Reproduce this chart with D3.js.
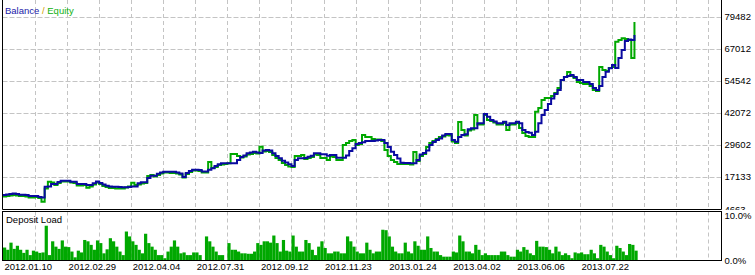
<!DOCTYPE html>
<html>
<head>
<meta charset="utf-8">
<script src="https://cdn.jsdelivr.net/npm/d3@7"></script>
<style>
  html, body { margin: 0; padding: 0; background: #fff; }
  svg { display: block; font-family: Tahoma, "Liberation Sans", Arial, sans-serif; }
</style>
</head>
<body>
<div id="chart"></div>
<script>
"use strict";

// balance after each trade (trade index = array index)
var balance = [
  10105, 10299, 10494, 10688, 10494, 10221, 10221, 10105, 9716, 9716,
  9716, 9327, 9133, 13331, 13409, 14381, 14381, 15158, 15663, 15663,
  15663, 15275, 15275, 14381, 14381, 14381, 13992, 13992, 14653, 15352,
  14769, 14186, 13720, 13409, 13331, 13331, 13214, 13098, 13098, 13214,
  13409, 13409, 14653, 15041, 15041, 16713, 17607, 17607, 18384, 18851,
  19162, 19162, 19162, 19162, 18851, 18462, 17101, 18656, 19434, 19939,
  19939, 19822, 19239, 19239, 19939, 20483, 21377, 22038, 22427, 22427,
  22427, 22427, 22427, 23709, 24875, 25458, 26314, 26625, 26935, 26625,
  26430, 27402, 27596, 27402, 26314, 25264, 24370, 23437, 22738, 22038,
  21377, 23709, 24370, 24370, 24487, 24992, 25381, 26314, 26314, 25925,
  25925, 25381, 25653, 25653, 24604, 24604, 24604, 25458, 27208, 28257,
  29929, 30317, 30590, 31095, 31095, 31095, 31289, 31483, 31483, 30317,
  28762, 26935, 25653, 24292, 22660, 22543, 22543, 22427, 22427, 23709,
  25847, 26430, 27402, 29540, 30706, 31483, 32066, 33233, 33816, 33816,
  31483, 30823, 32649, 33427, 33699, 35643, 36031, 36031, 37975, 37975,
  41590, 40540, 39257, 38674, 37975, 37975, 38597, 37314, 37975, 37975,
  38597, 37975, 35370, 34593, 34321, 33427, 34710, 37975, 41201, 43144,
  45477, 47615, 49364, 50918, 54805, 55971, 56360, 56749, 55971, 54805,
  54805, 54028, 54028, 53251, 51696, 50918, 52473, 55971, 58031, 59353,
  60636, 59470, 63357, 66466, 69965, 70548, 70353, 72297
];

var equity = [
  9522, 9716, 9910, 10105, 9910, 9716, 9716, 9522, 9133, 9133,
  9327, 8939, 7501, 12631, 15275, 14964, 13992, 14769, 15352, 15352,
  15352, 14964, 14769, 13797, 13797, 13992, 12942, 13409, 14186, 14964,
  14381, 13603, 13214, 12826, 12826, 12631, 12631, 12631, 13020, 13409,
  14886, 13992, 14186, 14575, 14769, 17490, 17879, 17296, 17879, 18462,
  18851, 18851, 18656, 18656, 18462, 18073, 16907, 18268, 19045, 19628,
  19628, 19434, 18851, 18851, 22932, 20600, 20988, 21766, 21960, 22155,
  22427, 26042, 26042, 25264, 24681, 25070, 25847, 26042, 26430, 26236,
  28879, 27013, 27208, 26819, 25653, 24487, 23709, 22543, 21766, 21183,
  20988, 25264, 25264, 25653, 24098, 24487, 24875, 25847, 25653, 24487,
  24487, 23709, 25070, 24875, 23709, 23709, 29540, 30317, 31095, 31483,
  29540, 29929, 33427, 32649, 32649, 31872, 31678, 31678, 31095, 27596,
  25264, 23709, 22932, 22155, 22155, 22155, 22155, 21960, 26819, 23321,
  25264, 26042, 28762, 30317, 31095, 31872, 32649, 32844, 33427, 33233,
  30900, 30317, 38480, 35370, 33233, 35176, 35565, 41201, 37508, 37508,
  41201, 39257, 38869, 38286, 37508, 37508, 38091, 35370, 37508, 37508,
  38091, 36148, 34204, 33038, 32649, 32649, 42484, 43922, 47031, 47809,
  47809, 48586, 49752, 51696, 54805, 55971, 57915, 56360, 55583, 54028,
  53639, 53251, 53251, 52473, 50918, 50530, 59858, 58692, 58304, 59470,
  59858, 69691, 70353, 71014, 70742, 70353, 63357, 77350
];

// deposit load in percent per trade
var depositLoad = [
  2.8, 2.3, 3.9, 2.5, 3.2, 2.3, 1.6, 2.3, 1.1, 2.1,
  1.9, 1.6, 1.7, 7.7, 1.1, 4.2, 3.0, 2.5, 4.4, 3.0,
  2.9, 1.9, 0.6, 2.1, 1.7, 4.5, 4.2, 3.4, 2.3, 4.4,
  3.8, 1.5, 2.4, 4.9, 4.2, 3.0, 1.9, 1.1, 6.4, 5.3,
  4.2, 3.4, 2.3, 1.5, 5.9, 3.8, 3.0, 2.3, 1.1, 1.1,
  0.4, 1.9, 3.0, 4.4, 3.0, 1.5, 1.7, 1.1, 1.1, 1.7,
  1.7, 1.1, 0, 5.3, 4.2, 3.0, 1.9, 1.1, 1.1, 0,
  3.8, 2.3, 2.3, 1.9, 1.5, 1.5, 1.4, 1.4, 1.9, 3.8,
  3.4, 4.2, 4.2, 3.9, 5.5, 3.8, 1.9, 4.5, 2.1, 1.9,
  5.5, 3.0, 1.9, 1.9, 4.5, 3.8, 2.3, 1.1, 3.0, 4.2,
  2.7, 1.5, 1.5, 1.9, 1.9, 1.5, 1.5, 5.3, 4.2, 3.0,
  1.9, 1.5, 1.5, 3.9, 2.3, 1.5, 1.9, 1.9, 6.8, 6.7,
  5.3, 3.0, 1.9, 1.5, 1.5, 3.9, 1.9, 1.5, 4.2, 3.2,
  2.3, 2.3, 5.3, 2.7, 1.9, 1.9, 1.1, 0.75, 0.75, 0.75,
  1.9, 1.7, 5.5, 4.2, 1.9, 1.9, 1.5, 3.4, 2.3, 1.1,
  1.5, 1.1, 1.1, 1.1, 1.1, 1.9, 1.9, 1.1, 0.75, 0.75,
  2.3, 1.9, 2.9, 2.3, 1.5, 1.1, 4.3, 3.0, 3.0, 2.9,
  2.3, 1.5, 3.0, 1.9, 1.1, 1.5, 1.1, 0.4, 1.7, 1.5,
  1.7, 1.3, 1.3, 2.3, 1.5, 0.4, 3.4, 3.0, 1.9, 1.1,
  0.4, 3.2, 2.7, 1.9, 1.1, 3.6, 3.4, 2.1
];

var yTicks = [4663, 17133, 29602, 42072, 54542, 67012, 79482];
var loadTicks = [0, 10];
var dateTicks = [0, 20, 40, 60, 80, 100, 120, 140, 160, 180];
var dateLabels = ["2012.01.10", "2012.02.29", "2012.04.04", "2012.07.31", "2012.09.12",
                  "2012.11.23", "2013.01.24", "2013.04.02", "2013.06.06", "2013.07.22"];

var W = 755, H = 275;
var left = 2.5, right = 721.5;
var mainBottom = 209.5, loadTop = 211.5, loadBottom = 260.5;

var blue = "#0a0aa0";
var green = "#00a800";
var gridColor = "#c4c4c4";

var svg = d3.select("#chart")
    .append("svg")
    .attr("width", W)
    .attr("height", H);

svg.append("rect").attr("width", W).attr("height", H).attr("fill", "#fff");

// scales
var x = d3.scaleLinear().domain([0, 224]).range([3, 721]);
var y = d3.scaleLinear().domain([4663, 79482]).range([209, 16.5]);
var yLoad = d3.scaleLinear().domain([0, 10]).range([260, 215.5]);

var gridX = d3.range(10, 224, 10);

// ---- main panel ----
var main = svg.append("g");

main.selectAll(".vgrid")
    .data(gridX)
    .join("line")
    .attr("x1", d => Math.round(x(d)) + 0.5)
    .attr("x2", d => Math.round(x(d)) + 0.5)
    .attr("y1", 0)
    .attr("y2", mainBottom)
    .attr("stroke", gridColor)
    .attr("stroke-dasharray", "4,3");

main.selectAll(".hgrid")
    .data(yTicks.slice(1))
    .join("line")
    .attr("x1", left)
    .attr("x2", right)
    .attr("y1", d => Math.round(y(d)) + 0.5)
    .attr("y2", d => Math.round(y(d)) + 0.5)
    .attr("stroke", gridColor)
    .attr("stroke-dasharray", "5,2");

// right axis labels
var yAxis = main.append("g")
    .attr("transform", `translate(${right + 3},0)`)
    .call(d3.axisRight(y).tickValues(yTicks).tickFormat(d3.format("d")).tickSize(0).tickPadding(0));
yAxis.select(".domain").remove();
yAxis.selectAll("text")
    .attr("fill", "#000")
    .style("font-size", "9.5px")
    .style("font-family", "Tahoma, 'Liberation Sans', Arial, sans-serif");

main.append("defs").append("clipPath")
    .attr("id", "clip-main")
    .append("rect")
    .attr("x", left).attr("y", 0)
    .attr("width", right - left).attr("height", mainBottom);

var line = d3.line()
    .x((d, i) => x(i))
    .y(d => y(d))
    .curve(d3.curveStepAfter);

main.append("path")
    .datum(equity)
    .attr("clip-path", "url(#clip-main)")
    .attr("fill", "none")
    .attr("stroke", green)
    .attr("stroke-width", 2)
    .attr("d", line);

main.append("path")
    .datum(balance)
    .attr("clip-path", "url(#clip-main)")
    .attr("fill", "none")
    .attr("stroke", blue)
    .attr("stroke-width", 2)
    .attr("d", line);

// frame
main.append("path")
    .attr("d", `M${left},0V${mainBottom}H${right}V0`)
    .attr("fill", "none")
    .attr("stroke", "#000");

// title
var title = main.append("text")
    .attr("x", 5)
    .attr("y", 14)
    .style("font-size", "9.5px");
title.append("tspan").attr("fill", "#1a1aa8").text("Balance");
title.append("tspan").attr("fill", "#d0a000").text(" / ");
title.append("tspan").attr("fill", "#10b010").text("Equity");

// ---- deposit load panel ----
var load = svg.append("g");

load.append("rect")
    .attr("x", 0).attr("y", mainBottom + 0.5)
    .attr("width", W).attr("height", H - mainBottom)
    .attr("fill", "#fff");

load.selectAll(".vgrid")
    .data(gridX)
    .join("line")
    .attr("x1", d => Math.round(x(d)) + 0.5)
    .attr("x2", d => Math.round(x(d)) + 0.5)
    .attr("y1", loadTop)
    .attr("y2", loadBottom)
    .attr("stroke", gridColor)
    .attr("stroke-dasharray", "4,3");

load.selectAll(".bar")
    .data(depositLoad)
    .join("rect")
    .attr("x", (d, i) => x(i))
    .attr("width", (d, i) => x(i + 1) - x(i))
    .attr("y", d => yLoad(d))
    .attr("height", d => yLoad(0) - yLoad(d))
    .attr("fill", green);

load.append("rect")
    .attr("x", left).attr("y", loadTop)
    .attr("width", right - left).attr("height", loadBottom - loadTop)
    .attr("fill", "none")
    .attr("stroke", "#000");

load.append("text")
    .attr("x", 6)
    .attr("y", 223)
    .attr("fill", "#000")
    .style("font-size", "9.5px")
    .text("Deposit Load");

var loadAxis = load.append("g")
    .attr("transform", `translate(${right + 3},0)`)
    .call(d3.axisRight(yLoad).tickValues(loadTicks).tickFormat(d => d3.format(".1f")(d) + "%").tickSize(0).tickPadding(0));
loadAxis.select(".domain").remove();
loadAxis.selectAll("text")
    .attr("fill", "#000")
    .style("font-size", "9.5px")
    .style("font-family", "Tahoma, 'Liberation Sans', Arial, sans-serif");

// date labels under the panels
var xAxis = svg.append("g")
    .attr("transform", `translate(0,${loadBottom + 1})`)
    .call(d3.axisBottom(x).tickValues(dateTicks).tickFormat((d, i) => dateLabels[i]).tickSize(0).tickPadding(2));
xAxis.select(".domain").remove();
xAxis.selectAll("text")
    .attr("text-anchor", "start")
    .attr("dx", "1")
    .attr("fill", "#000")
    .style("font-size", "9.5px")
    .style("font-family", "Tahoma, 'Liberation Sans', Arial, sans-serif");
</script>
</body>
</html>
